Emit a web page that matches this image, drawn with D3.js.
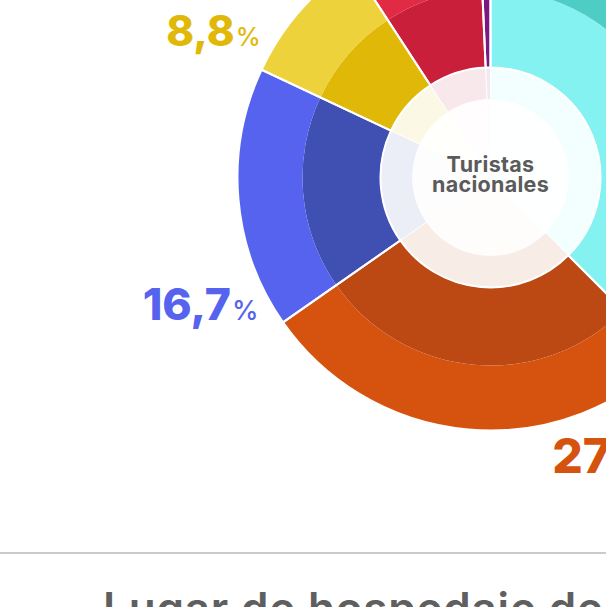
<!DOCTYPE html>
<html>
<head>
<meta charset="utf-8">
<script src="https://cdn.jsdelivr.net/npm/d3@7"></script>
<style>
  body { margin: 0; background: #fff; }
  svg { display: block; }
</style>
</head>
<body>
<div id="chart"></div>
<script>
// slices clockwise from 12 o'clock
const categories = ["Vivienda propia", "Familiares o amigos", "Hotel", "Hostal", "Alquiler", "Otro"];
const values = [37.5, 27.8, 16.7, 8.8, 8.5, 0.7];
const valueLabels = ["37,5", "27,8", "16,7", "8,8", "8,5", "0,7"];
const outerColors = ["#4ecdc4", "#d6530f", "#5563ee", "#edd23c", "#e12a44", "#8b1f8f"];
const innerColors = ["#85f2f2", "#bc4813", "#3f4fb2", "#e0b908", "#c91f3a", "#7a1a80"];
const labelColors = ["#4ecdc4", "#d6530f", "#5563ee", "#e0b908", "#c91f3a", "#8b1f8f"];
const centerLines = ["Turistas", "nacionales"];
const footerTitle = "Lugar de hospedaje de";

// hand placed label anchors: degrees clockwise from top, distance from center
// (null = label sits outside this crop)
const labelPlacement = [
  null,
  { angle: 168.2, r: 302, anchor: "start" },
  { angle: 238.35, r: 272.5, anchor: "end" },
  { angle: 299.85, r: 265, anchor: "end" },
  null,
  null,
];

const width = 606;
const height = 607;
const cx = 490.5;
const cy = 177.5;
const rOuter = 253;
const rMid = 188;
const rInner = 110;
const rCenter = 78;

const svg = d3
  .select("#chart")
  .append("svg")
  .attr("width", width)
  .attr("height", height)
  .attr("viewBox", [0, 0, width, height]);

const g = svg.append("g").attr("transform", `translate(${cx},${cy})`);

const pie = d3
  .pie()
  .sort(null)
  .value((d) => d)
  .startAngle(0)
  .endAngle(2 * Math.PI);

const arcs = pie(values);

const tintArc = d3.arc().innerRadius(0).outerRadius(rInner);
const innerArc = d3.arc().innerRadius(rInner).outerRadius(rMid);
const outerArc = d3.arc().innerRadius(rMid).outerRadius(rOuter);

// faint tinted core
g.selectAll(".tint")
  .data(arcs)
  .join("path")
  .attr("class", "tint")
  .attr("d", tintArc)
  .attr("fill", (d, i) => innerColors[i])
  .attr("fill-opacity", 0.1);

// darker inner band
g.selectAll(".inner")
  .data(arcs)
  .join("path")
  .attr("class", "inner")
  .attr("d", innerArc)
  .attr("fill", (d, i) => innerColors[i]);

// lighter outer band
g.selectAll(".outer")
  .data(arcs)
  .join("path")
  .attr("class", "outer")
  .attr("d", outerArc)
  .attr("fill", (d, i) => outerColors[i]);

// white separators between slices
const sep = d3.arc().innerRadius(rInner).outerRadius(rOuter);
g.selectAll(".sep")
  .data(arcs)
  .join("path")
  .attr("class", "sep")
  .attr("d", sep)
  .attr("fill", "none")
  .attr("stroke", "#fff")
  .attr("stroke-width", 2);

const sepCore = d3.arc().innerRadius(rCenter).outerRadius(rInner);
g.selectAll(".sepcore")
  .data(arcs)
  .join("path")
  .attr("class", "sepcore")
  .attr("d", sepCore)
  .attr("fill", "none")
  .attr("stroke", "#fff")
  .attr("stroke-width", 1)
  .attr("stroke-opacity", 0.7);

// center disc
g.append("circle")
  .attr("r", rCenter)
  .attr("fill", "#fff")
  .attr("fill-opacity", 0.88);

g.append("text")
  .attr("text-anchor", "middle")
  .attr("font-family", "Inter, 'Open Sans', sans-serif")
  .attr("font-weight", 700)
  .attr("font-size", 21.5)
  .attr("letter-spacing", 0.3)
  .attr("fill", "#5b5b5b")
  .selectAll("tspan")
  .data(centerLines)
  .join("tspan")
  .attr("x", 0)
  .attr("y", (d, i) => -6 + i * 20)
  .text((d) => d);

// percentage labels
const sizeScale = d3.scaleLinear().domain([8.8, 27.8]).range([42, 48]);
const labels = svg
  .append("g")
  .attr("font-family", "Inter, 'Open Sans', sans-serif")
  .selectAll("text")
  .data(arcs.filter((d, i) => labelPlacement[i]))
  .join("text")
  .each(function (d) {
    const p = labelPlacement[d.index];
    const a = (p.angle * Math.PI) / 180;
    d3.select(this)
      .attr("x", cx + p.r * Math.sin(a))
      .attr("y", cy - p.r * Math.cos(a))
      .attr("text-anchor", p.anchor)
      .attr("fill", labelColors[d.index])
      .attr("font-size", sizeScale(d.data))
      .attr("font-weight", 800);
  });

labels.append("tspan").text((d) => valueLabels[d.index]);
labels
  .append("tspan")
  .attr("font-size", "0.6em")
  .attr("font-weight", 500)
  .attr("dx", 1)
  .text("%");

// rule and section title at the bottom
svg
  .append("line")
  .attr("x1", 0)
  .attr("x2", width)
  .attr("y1", 553)
  .attr("y2", 553)
  .attr("stroke", "#b8b8b8")
  .attr("stroke-width", 1.5);

svg
  .append("text")
  .attr("x", 103)
  .attr("y", 624)
  .attr("font-family", "Inter, 'Open Sans', sans-serif")
  .attr("font-weight", 600)
  .attr("font-size", 44)
  .attr("letter-spacing", 0.8)
  .attr("fill", "#5f5f5f")
  .text(footerTitle);
</script>
</body>
</html>
